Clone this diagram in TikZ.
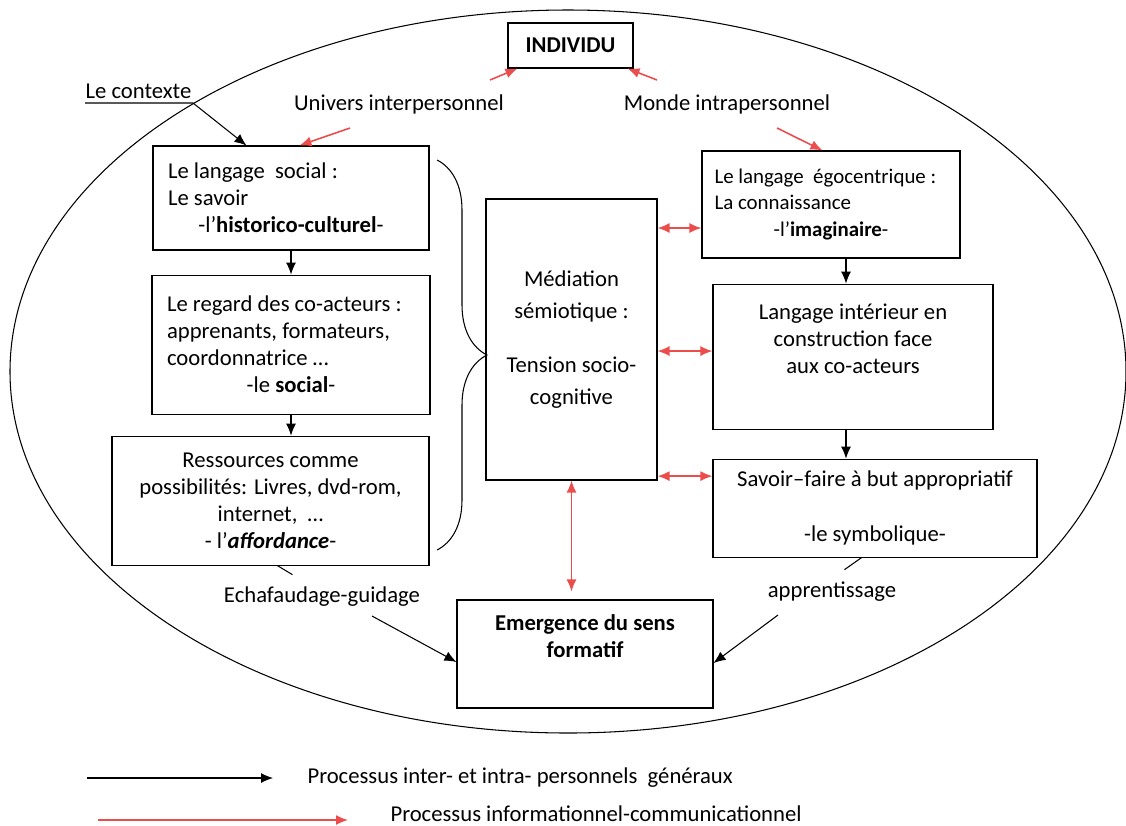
\documentclass[tikz,border=0pt]{standalone}
\usepackage{fontspec}
\setmainfont{Carlito}
\usetikzlibrary{arrows.meta,positioning,decorations.pathreplacing}
\definecolor{redarr}{RGB}{236,76,76}

\begin{document}
\begin{tikzpicture}[->,>={Latex[length=2.4mm,width=2mm]},line width=0.6pt,
            font=\fontsize{12.9}{15.4}\selectfont,
            box/.style={draw,rectangle,inner sep=0pt},
            boxl/.style={box,align=flush left,inner xsep=0.3cm},
            boxc/.style={box,align=center},
            lbl/.style={inner sep=0pt},
            rarr/.style={draw=redarr,line width=0.9pt}]

      \useasboundingbox (0,0) rectangle (22.52,-16.5);
      \draw[-] (11.36,-7.43) ellipse (11.16 and 7.23);

      \node[boxc,minimum width=2.5cm,minimum height=0.9cm,font=\fontsize{12.9}{15.4}\selectfont\bfseries] (ind) at (11.41,-0.91) {INDIVIDU};

      \node[boxl,text width=4.92cm,minimum height=2.08cm] (soc) at (5.82,-3.96)
            {Le langage\ \ social :\\Le savoir\par{\centering -l’\textbf{historico-culturel}-\par}};
      \node[boxl,text width=4.96cm,minimum height=2.78cm,below=0.48cm of soc] (regard)
            {Le regard des co-acteurs :\\apprenants, formateurs,\\coordonnatrice …\par{\centering -le \textbf{social}-\par}};
      \node[boxc,minimum width=6.34cm,minimum height=2.58cm,below=0.42cm of regard,xshift=-0.41cm] (ress)
            {Ressources comme\\possibilités: Livres, dvd-rom,\\internet,\ \ …\\- l’\textbf{\textit{affordance}}-};

      \node[boxc,minimum width=3.42cm,minimum height=5.62cm,font=\fontsize{12.9}{18.1}\selectfont] (med) at (11.43,-6.79)
            {Médiation\\sémiotique :\\[0.46cm]Tension socio-\\cognitive};

      \node[boxl,text width=4.66cm,inner xsep=0.25cm,minimum height=2.14cm,font=\fontsize{11.9}{15}\selectfont] (ego) at (16.62,-4.09)
            {Le langage\ \ égocentrique :\\La connaissance\par{\centering -l’\textbf{imaginaire}-\par}};
      \node[boxc,minimum width=5.6cm,minimum height=2.9cm,below=0.5cm of ego,xshift=0.44cm] (inter)
            {Langage intérieur en\\construction face\\aux co-acteurs\\\strut};
      \node[boxc,minimum width=6.48cm,minimum height=1.96cm,below=0.58cm of inter,xshift=0.44cm] (symb)
            {Savoir–faire à but appropriatif\\[0.56cm]-le symbolique-};

      \node[boxc,minimum width=5.12cm,minimum height=2.16cm,font=\fontsize{12.9}{15.4}\selectfont\bfseries] (emer) at (11.7,-13.08)
            {Emergence du sens\\formatif\\\strut};

      \node[lbl] (ctx) at (2.77,-1.82) {Le contexte};
      \node[lbl] (univ) at (7.98,-2.08) {Univers interpersonnel};
      \node[lbl] (monde) at (14.54,-2.08) {Monde intrapersonnel};
      \node[lbl] (ech) at (6.44,-11.94) {Echafaudage-guidage};
      \node[lbl] (app) at (16.64,-11.84) {apprentissage};

      \node[lbl,anchor=west] (leg1) at (6.14,-15.56) {Processus inter- et intra- personnels\ \ généraux};
      \node[lbl,anchor=west] (leg2) at (7.8,-16.28) {Processus informationnel-communicationnel};

      \coordinate (ctxe) at (3.86,-2.06);
      \coordinate (u1) at (7.0,-2.56);
      \coordinate (m1) at (15.54,-2.56);
      \coordinate (i1) at (9.8,-1.6);
      \coordinate (i2) at (13.14,-1.6);
      \coordinate (e0) at (7.44,-12.32);
      \coordinate (a0) at (15.56,-12.3);
      \coordinate (l1a) at (1.74,-15.56);
      \coordinate (l1b) at (5.46,-15.56);
      \coordinate (l2a) at (1.96,-16.4);
      \coordinate (l2b) at (6.96,-16.4);
      \coordinate (r1) at ([yshift=-0.47cm]ego.west);
      \coordinate (r2) at ([yshift=0.11cm]inter.west);
      \coordinate (r3) at ([yshift=0.64cm]symb.west);

      \draw (ctx.south west |- ctxe) -- (ctxe) -- ([xshift=1.88cm]soc.north west);
      \draw (soc) -- (regard);
      \draw (regard.south) -- (regard.south |- ress.north);
      \draw ([xshift=0.3cm]ego.south) -- ([xshift=0.3cm]ego.south |- inter.north);
      \draw ([xshift=-0.14cm]inter.south) -- ([xshift=-0.14cm]inter.south |- symb.north);
      \draw[-] ([xshift=3.32cm]ress.south west) -- ++(0.3,-0.18);
      \draw[-] ([xshift=2.98cm]symb.south west) -- ++(-0.34,-0.24);
      \draw (e0) -- ([yshift=-0.16cm]emer.west);
      \draw (a0) -- ([yshift=-0.18cm]emer.east);

      \draw[rarr] (u1) -- ([xshift=2.94cm]soc.north west);
      \draw[rarr] (m1) -- ([xshift=2.42cm]ego.north west);
      \draw[rarr] (i1) -- ([xshift=0.2cm]ind.south west);
      \draw[rarr] (i2) -- ([xshift=-0.12cm]ind.south east);
      \draw[rarr,<->] (med.east |- r1) -- (r1);
      \draw[rarr,<->] (med.east |- r2) -- (r2);
      \draw[rarr,<->] (med.east |- r3) -- (r3);
      \draw[rarr,<->,shorten >=0.16cm] (med.south) -- (med.south |- emer.north);

      \draw[-,decorate,decoration={brace,amplitude=1cm}] (8.74,-3.2) -- (8.74,-11.0);

      \draw (l1a) -- (l1b);
      \draw[rarr] (l2a) -- (l2b);

\end{tikzpicture}
\end{document}
